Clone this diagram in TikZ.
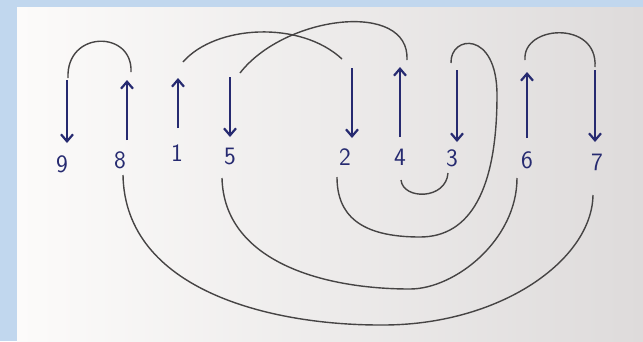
\documentclass[tikz,border=0pt]{standalone}
\usepackage{tikz}
\usetikzlibrary{arrows.meta}
\definecolor{sky}{RGB}{193, 215, 238}
\definecolor{paper}{RGB}{252, 251, 250}
\definecolor{papershade}{RGB}{222, 219, 219}
\definecolor{ink}{RGB}{38, 42, 112}
\definecolor{pencil}{RGB}{70, 68, 68}

\begin{document}
\begin{tikzpicture}[x=1pt, y=-1pt,
    strand/.style={ink, line width=2.2, -{Straight Barb[length=7pt, width=12pt]}},
    loop/.style={pencil, line width=1.4},
    num/.style={ink, font=\sffamily\fontsize{25}{25}\selectfont}]

  \useasboundingbox (0, 0) rectangle (643, 341);
  \fill[sky] (0, 0) rectangle (643, 341);
  \shade[left color=paper, right color=papershade] (17, 7) rectangle (643, 341);

  \coordinate (t9) at (67, 80);   \coordinate (b9) at (67, 143);
  \coordinate (t8) at (127, 80);  \coordinate (b8) at (127, 140);
  \coordinate (t1) at (178, 78);  \coordinate (b1) at (178, 128);
  \coordinate (t5) at (230, 77);  \coordinate (b5) at (230, 137);
  \coordinate (t2) at (352, 68);  \coordinate (b2) at (352, 138);
  \coordinate (t4) at (400, 67);  \coordinate (b4) at (400, 137);
  \coordinate (t3) at (457, 70);  \coordinate (b3) at (457, 142);
  \coordinate (t6) at (527, 72);  \coordinate (b6) at (527, 138);
  \coordinate (t7) at (595, 70);  \coordinate (b7) at (595, 142);

  \draw[strand] (t9) -- (b9);
  \draw[strand] (b8) -- (t8);
  \draw[strand] (b1) -- (t1);
  \draw[strand] (t5) -- (b5);
  \draw[strand] (t2) -- (b2);
  \draw[strand] (b4) -- (t4);
  \draw[strand] (t3) -- (b3);
  \draw[strand] (b6) -- (t6);
  \draw[strand] (t7) -- (b7);

  \node[num] (n9) at (62, 164) {9};
  \node[num] (n8) at (120, 160) {8};
  \node[num] (n1) at (177, 153) {1};
  \node[num] (n5) at (230, 156) {5};
  \node[num] (n2) at (345, 157) {2};
  \node[num] (n4) at (400, 157) {4};
  \node[num] (n3) at (452, 158) {3};
  \node[num] (n6) at (527, 160) {6};
  \node[num] (n7) at (597, 162) {7};

  \coordinate (u9) at (68, 78);   \coordinate (u8) at (131, 72);
  \coordinate (u1) at (183, 62);  \coordinate (u2) at (342, 59);
  \coordinate (u5) at (240, 73);  \coordinate (u4) at (407, 60);
  \coordinate (u3) at (451, 63);  \coordinate (u6) at (525, 60);
  \coordinate (u7) at (595, 67);
  \coordinate (d8) at (123, 175); \coordinate (d5) at (222, 178);
  \coordinate (d2) at (337, 177); \coordinate (d4) at (401, 180);
  \coordinate (d3) at (448, 173); \coordinate (d6) at (517, 178);
  \coordinate (d7) at (593, 195);
  \coordinate (r3) at (497, 95);  \coordinate (m2) at (420, 237);
  \coordinate (m5) at (410, 289); \coordinate (m8) at (380, 325);

  \draw[loop] (u9) .. controls +(-2, -48) and +(2, -42) .. (u8);
  \draw[loop] (u1) .. controls +(32, -37) and +(-42, -39) .. (u2);
  \draw[loop] (u5) .. controls +(45, -58) and +(3, -60) .. (u4);
  \draw[loop] (u6) .. controls +(-3, -35) and +(3, -47) .. (u7);
  \draw[loop] (u3) .. controls +(-1, -28) and +(0, -65) .. (r3)
    .. controls +(0, 95) and +(50, 0) .. (m2)
    .. controls +(-60, 0) and +(0, 38) .. (d2);
  \draw[loop] (d4) .. controls +(2, 20) and +(-2, 27) .. (d3);
  \draw[loop] (d5) .. controls +(2, 82) and +(-90, 0) .. (m5)
    .. controls +(45, 0) and +(0, 62) .. (d6);
  \draw[loop] (d8) .. controls +(2, 115) and +(-110, 0) .. (m8)
    .. controls +(120, 1) and +(-1, 65) .. (d7);

\end{tikzpicture}
\end{document}
